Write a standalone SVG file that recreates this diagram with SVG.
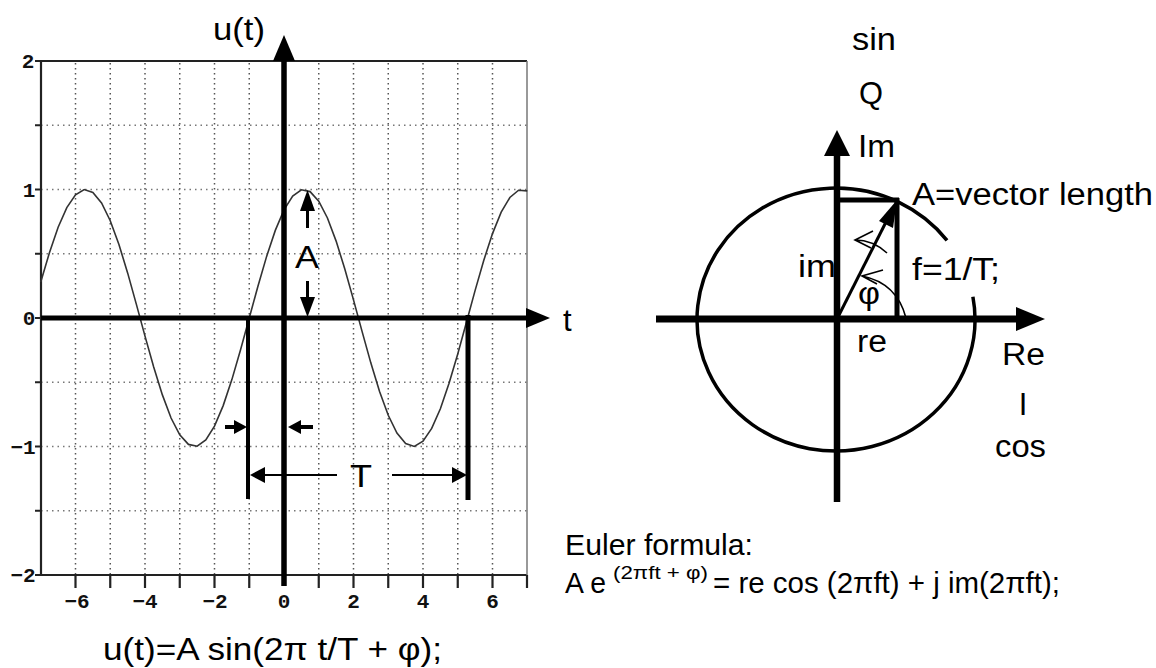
<svg xmlns="http://www.w3.org/2000/svg" width="1156" height="668" viewBox="0 0 1156 668">
<style>
text{font-family:"Liberation Sans",Arial,sans-serif;fill:#000}
.lbl{font-size:31px}
.tick{font-family:"Liberation Mono","DejaVu Sans Mono",monospace;font-size:21px;font-weight:bold;text-anchor:middle;fill:#111}
.gv{stroke:#555;stroke-width:1.5;stroke-dasharray:1.5 3.5;fill:none}
.gh{stroke:#777;stroke-width:1.5;stroke-dasharray:1.5 4;fill:none}
.frame{stroke:#222;stroke-width:2.2;fill:none}
.ax{stroke:#000;fill:none}
.hd{fill:#000;stroke:none}
</style>
<rect width="1156" height="668" fill="#fff"/>

<g id="plot">
  <g id="grid">
    <path class="gv" d="M75.5 63V575M110.25 63V575M145 63V575M179.75 63V575M214.5 63V575M249.25 63V575M318.75 63V575M353.5 63V575M388.25 63V575M423 63V575M457.75 63V575M492.5 63V575"/>
    <path class="gh" d="M41 125.25H527M41 189.5H527M41 253.75H527M41 382.25H527M41 446.5H527M41 510.75H527"/>
  </g>
  <g id="frame">
    <path class="frame" d="M41 61H527M41 575H527M41 60V576"/>
    <path d="M527 61V575" stroke="#777" stroke-width="1.5"/>
    <path class="frame" stroke-width="1.6" d="M35 61H41M35 125.25H41M35 189.5H41M35 253.75H41M35 318H41M35 382.25H41M35 446.5H41M35 510.75H41M35 575H41"/>
    <path class="frame" stroke-width="1.6" d="M75.5 575V588M110.25 575V588M145 575V588M179.75 575V588M214.5 575V588M249.25 575V588M318.75 575V588M353.5 575V588M388.25 575V588M423 575V588M457.75 575V588M492.5 575V588M527 575V588"/>
  </g>
  <g id="tick-labels">
    <text class="tick" x="28" y="68">2</text>
    <text class="tick" x="29" y="197">1</text>
    <text class="tick" x="29" y="325">0</text>
    <text class="tick" x="23" y="454">−1</text>
    <text class="tick" x="23" y="582">−2</text>
    <text class="tick" x="77" y="608">−6</text>
    <text class="tick" x="145" y="608">−4</text>
    <text class="tick" x="215" y="608">−2</text>
    <text class="tick" x="284" y="608">0</text>
    <text class="tick" x="353.5" y="608">2</text>
    <text class="tick" x="423" y="608">4</text>
    <text class="tick" x="492.5" y="608">6</text>
  </g>
  <g id="sine">
    <polyline fill="none" stroke="#333" stroke-width="1.6" points="40.75,282.1 49.44,252.7 58.13,227.3 66.81,207.6 75.5,194.8 84.19,189.6 92.88,192.4 101.56,203 110.25,220.7 118.94,244.5 127.63,272.9 136.31,304.1 145,336.1 153.69,367 162.38,394.9 171.06,418 179.75,434.8 188.44,444.4 197.13,446.2 205.81,440 214.5,426.1 223.19,405.6 231.88,379.6 240.56,349.8 249.25,318 257.94,286.2 266.63,256.4 275.31,230.4 284,209.9 292.69,196 301.38,189.8 310.06,191.6 318.75,201.2 327.44,218 336.13,241.1 344.81,269 353.5,299.9 362.19,331.9 370.88,363.1 379.56,391.5 388.25,415.3 396.94,433 405.63,443.6 414.31,446.4 423,441.2 431.69,428.4 440.38,408.7 449.06,383.3 457.75,353.9 466.44,322.3 475.13,290.4 483.81,260.2 492.5,233.6 501.19,212.2 509.88,197.5 518.56,190.2 527.25,190.9"/>
  </g>
  <g id="axes-left">
    <path class="ax" stroke-width="5" d="M41 318H528"/>
    <path class="hd" d="M526 308L550 318L526 328Z"/>
    <path class="ax" stroke-width="5.5" d="M284 586V58"/>
    <path class="hd" d="M273 61L284 35L295 61Z"/>
    <text class="lbl" x="213" y="40" textLength="52" lengthAdjust="spacingAndGlyphs">u(t)</text>
    <text class="lbl" x="563" y="331">t</text>
  </g>
  <g id="amplitude">
    <path class="ax" stroke-width="3" d="M307.5 228V205M307.5 281V302"/>
    <path class="hd" d="M300 211L307.5 190L315 211Z"/>
    <path class="hd" d="M300 297L307.5 317L315 297Z"/>
    <text class="lbl" x="307" y="268" text-anchor="middle" textLength="24" lengthAdjust="spacingAndGlyphs">A</text>
  </g>
  <g id="period">
    <path class="ax" stroke-width="4" d="M248 318V499"/>
    <path class="ax" stroke-width="5" d="M468 315V500"/>
    <path class="ax" stroke-width="4" d="M225 427H236M300 427H313"/>
    <path class="hd" d="M234 420L247 427L234 434Z"/>
    <path class="hd" d="M301 420L288 427L301 434Z"/>
    <path class="ax" stroke-width="2" d="M262 475H337M392 475H454"/>
    <path class="hd" d="M265 467L250 475L265 483Z"/>
    <path class="hd" d="M452 467L467 475L452 483Z"/>
    <text class="lbl" x="361" y="487" text-anchor="middle" textLength="22" lengthAdjust="spacingAndGlyphs">T</text>
  </g>
  <text class="lbl" x="103" y="660" textLength="339" lengthAdjust="spacingAndGlyphs">u(t)=A sin(2π t/T + φ);</text>
</g>

<g id="phasor">
  <path fill="none" stroke="#000" stroke-width="3.5" d="M972.9 296.7A139 131.5 0 1 1 947 240.4"/>
  <path class="ax" stroke-width="7" d="M656 319H1018"/>
  <path class="hd" d="M1016 307L1045 319L1016 331Z"/>
  <path class="ax" stroke-width="6.5" d="M837 502V152"/>
  <path class="hd" d="M824 156L837 130L850 156Z"/>
  <path class="ax" stroke-width="5" d="M837 200H899M897 198V319"/>
  <path class="ax" stroke-width="3" d="M837 319L886 222"/>
  <path class="hd" d="M897 200L893 228L879 221Z"/>
  <path fill="none" stroke="#000" stroke-width="1.6" d="M887 253Q873 240 855 240M873 231L855 240L871 248M906 318Q897 283 862 276M883 270L862 276L877 284"/>
  <text class="lbl" x="852" y="50" textLength="44" lengthAdjust="spacingAndGlyphs">sin</text>
  <text class="lbl" x="871" y="104" text-anchor="middle" textLength="24" lengthAdjust="spacingAndGlyphs">Q</text>
  <text class="lbl" x="858" y="157" textLength="37" lengthAdjust="spacingAndGlyphs">Im</text>
  <text class="lbl" x="912" y="205" textLength="241" lengthAdjust="spacingAndGlyphs">A=vector length</text>
  <text class="lbl" x="798" y="277" textLength="38" lengthAdjust="spacingAndGlyphs">im</text>
  <text class="lbl" x="912" y="280" textLength="88" lengthAdjust="spacingAndGlyphs">f=1/T;</text>
  <text class="lbl" x="858" y="304" font-size="26" textLength="22" lengthAdjust="spacingAndGlyphs">φ</text>
  <text class="lbl" x="857" y="352" textLength="30" lengthAdjust="spacingAndGlyphs">re</text>
  <text class="lbl" x="1002" y="365" textLength="43" lengthAdjust="spacingAndGlyphs">Re</text>
  <text class="lbl" x="1023" y="415" text-anchor="middle">I</text>
  <text class="lbl" x="995" y="457" textLength="51" lengthAdjust="spacingAndGlyphs">cos</text>
</g>

<g id="euler">
  <text x="565" y="555" font-size="30" textLength="188" lengthAdjust="spacingAndGlyphs">Euler formula:</text>
  <text x="565" y="593" font-size="30" textLength="41" lengthAdjust="spacingAndGlyphs">A e</text>
  <text x="613" y="579" font-size="19" textLength="95" lengthAdjust="spacingAndGlyphs">(2πft + φ)</text>
  <text x="713" y="593" font-size="30" textLength="347" lengthAdjust="spacingAndGlyphs">= re cos (2πft) + j im(2πft);</text>
</g>
</svg>
